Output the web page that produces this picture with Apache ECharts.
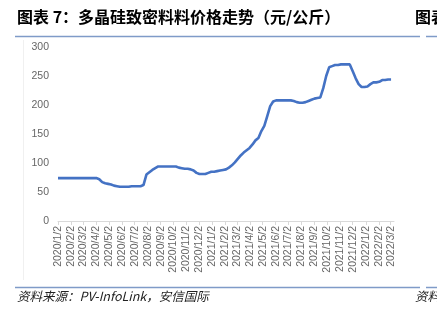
<!DOCTYPE html>
<html><head><meta charset="utf-8">
<script src="https://cdn.jsdelivr.net/npm/echarts@6/dist/echarts.min.js"></script>
<style>html,body{margin:0;padding:0;background:#fff}#c{width:437px;height:310px}</style>
</head><body><div id="c"></div>
<script>
// Weekly series start date and step
const startDate = '2020-01-02';
const weekStepDays = 7;
// Prices (元/公斤), weekly
const prices = [
  74,74,74,74,74,74,74,74,74,74,74,74,74,74,
  72,67,65,64,63,61,60,
  59,59,59,59,60,60,60,60,
  62,80,84,88,91,
  94,94,94,94,94,94,94,
  92,91,90,90,89,87,83,81,81,81,
  83,85,85,86,87,88,89,92,96,101,107,113,118,122,126,132,139,143,155,164,181,198,206,
  208,208,208,208,208,208,
  207,205,204,204,205,207,209,211,212,213,
  229,250,265,267,269,269,270,270,270,270,
  258,246,236,231,231,232,236,239,239,240,243,243,244,244
];
// Month tick labels on the x axis
const tickLabels = [
  '2020/1/2','2020/2/2','2020/3/2','2020/4/2','2020/5/2','2020/6/2','2020/7/2','2020/8/2','2020/9/2','2020/10/2','2020/11/2','2020/12/2',
  '2021/1/2','2021/2/2','2021/3/2','2021/4/2','2021/5/2','2021/6/2','2021/7/2','2021/8/2','2021/9/2','2021/10/2','2021/11/2','2021/12/2',
  '2022/1/2','2022/2/2','2022/3/2'
];
const yTicks = [0, 50, 100, 150, 200, 250, 300];
const titleText = '图表 7：多晶硅致密料料价格走势（元/公斤）';
const sourceText = '资料来源：PV-InfoLink，安信国际';

function parseD(s){ const p = s.split(/[-\/]/).map(Number); return new Date(p[0], p[1]-1, p[2]).getTime(); }
const t0 = parseD(startDate);
const seriesData = prices.map((v, i) => [t0 + i * weekStepDays * 86400000, v]);
const tickTimes = tickLabels.map(parseD);

const chart = echarts.init(document.getElementById('c'), null, {renderer: 'canvas'});
chart.setOption({
  animation: false,
  grid: {left: 58, right: 43, top: 47, bottom: 89, containLabel: false},
  xAxis: {
    type: 'value',
    min: parseD('2020/1/2'),
    max: parseD('2022/3/10'),
    axisLine: {show: true, lineStyle: {color: '#d9d9d9', width: 1}},
    axisTick: {show: true, customValues: tickTimes, length: 4, lineStyle: {color: '#d9d9d9'}},
    axisLabel: {
      customValues: tickTimes,
      rotate: 90, fontSize: 10.5, color: '#666', margin: 5,
      fontFamily: 'Liberation Sans, Arial, sans-serif',
      formatter: function (v) { const d = new Date(v); return d.getFullYear() + '/' + (d.getMonth()+1) + '/' + d.getDate(); }
    },
    splitLine: {show: false}
  },
  yAxis: {
    type: 'value', min: yTicks[0], max: yTicks[yTicks.length-1], interval: 50,
    axisLine: {show: false}, axisTick: {show: false}, splitLine: {show: false},
    axisLabel: {fontSize: 10.5, color: '#666', margin: 9, fontFamily: 'Liberation Sans, Arial, sans-serif'}
  },
  series: [{
    type: 'line', data: seriesData, showSymbol: false, symbol: 'none',
    lineStyle: {color: '#4472C4', width: 2.6}, smooth: false
  }],
  graphic: [
    {type: 'text', left: 17, top: 9, style: {text: titleText, font: 'bold 16px "Noto Sans CJK SC", sans-serif', fill: '#000'}},
    {type: 'text', left: 415, top: 9, style: {text: '图表 8：', font: 'bold 16px "Noto Sans CJK SC", sans-serif', fill: '#000'}},
    {type: 'line', shape: {x1: 15, y1: 36.5, x2: 420, y2: 36.5}, style: {stroke: '#7f9bc8', lineWidth: 1.5}},
    {type: 'line', shape: {x1: 426, y1: 36.5, x2: 437, y2: 36.5}, style: {stroke: '#7f9bc8', lineWidth: 1.5}},
    {type: 'line', shape: {x1: 23.5, y1: 40, x2: 23.5, y2: 280}, style: {stroke: '#f0f0f0', lineWidth: 1}},
    {type: 'line', shape: {x1: 15, y1: 287.5, x2: 420, y2: 287.5}, style: {stroke: '#7f9bc8', lineWidth: 1.5}},
    {type: 'line', shape: {x1: 426, y1: 287.5, x2: 437, y2: 287.5}, style: {stroke: '#7f9bc8', lineWidth: 1.5}},
    {type: 'text', left: 17, top: 290, style: {text: sourceText, font: 'italic 12.5px "Noto Sans CJK SC", sans-serif', fill: '#222'}},
    {type: 'text', left: 415, top: 290, style: {text: '资料', font: 'italic 12.5px "Noto Sans CJK SC", sans-serif', fill: '#222'}}
  ]
});
</script></body></html>
